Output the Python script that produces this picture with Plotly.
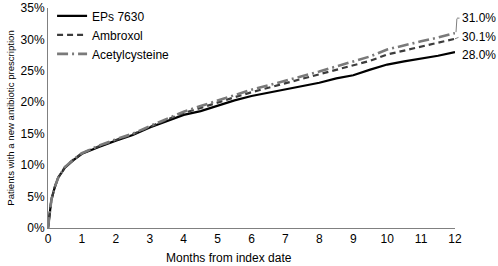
import plotly.graph_objects as go

months = [0, 0.05, 0.1, 0.2, 0.3, 0.5, 0.75, 1, 1.25, 1.5, 2, 2.5, 3, 3.5, 4, 4.5, 5,
          5.5, 6, 6.5, 7, 7.5, 8, 8.5, 9, 9.5, 10, 10.5, 11, 11.5, 12]

eps7630 = [0, 2.5, 4.5, 6.5, 8.0, 9.6, 10.8, 11.8, 12.4, 12.9, 13.9, 14.8, 16.0, 17.0,
           18.0, 18.6, 19.5, 20.3, 21.0, 21.5, 22.0, 22.6, 23.1, 23.8, 24.3, 25.2, 26.0,
           26.5, 26.9, 27.4, 28.0]
ambroxol = [0, 2.5, 4.5, 6.5, 8.0, 9.7, 10.9, 11.9, 12.5, 13.0, 14.0, 14.9, 16.1, 17.2,
            18.3, 19.1, 20.0, 20.8, 21.6, 22.3, 23.0, 23.7, 24.4, 25.1, 25.8, 26.6, 27.6,
            28.2, 28.8, 29.4, 30.1]
acetylcysteine = [0, 2.5, 4.5, 6.5, 8.0, 9.7, 10.9, 11.9, 12.5, 13.1, 14.1, 15.0, 16.2,
                  17.3, 18.5, 19.4, 20.3, 21.1, 22.0, 22.7, 23.4, 24.2, 24.9, 25.7, 26.5,
                  27.3, 28.4, 29.1, 29.7, 30.3, 31.0]

x_ticks = list(range(0, 13))
y_ticks = [0, 5, 10, 15, 20, 25, 30, 35]
y_tick_labels = [f"{v}%" for v in y_ticks]

FONT = "Arial, Liberation Sans, sans-serif"
LEADER = "#808080"

fig = go.Figure()
fig.add_trace(go.Scatter(x=months, y=eps7630, mode="lines", name="EPs 7630",
                         line=dict(color="#000000", width=2.2)))
fig.add_trace(go.Scatter(x=months, y=ambroxol, mode="lines", name="Ambroxol",
                         line=dict(color="#3c3c3c", width=2.2, dash="6px,4px")))
fig.add_trace(go.Scatter(x=months, y=acetylcysteine, mode="lines", name="Acetylcysteine",
                         line=dict(color="#7a7a7a", width=2.6, dash="11px,4px,2px,4px")))

x_end = months[-1]
# end-value labels
for val, ysh in [(acetylcysteine[-1], 15), (ambroxol[-1], 2), (eps7630[-1], -3)]:
    fig.add_annotation(x=x_end, y=val, text=f"{val:.1f}%", showarrow=False,
                       xanchor="left", yanchor="middle", xshift=5, yshift=ysh,
                       font=dict(family=FONT, size=12, color="#000000"))
# leader lines
fig.add_annotation(x=x_end, y=acetylcysteine[-1], text="", showarrow=True, arrowhead=0,
                   arrowwidth=1, arrowcolor=LEADER, ax=1, ay=-15, xshift=1, yshift=1)
fig.add_annotation(x=x_end, y=acetylcysteine[-1], text="", showarrow=True, arrowhead=0,
                   arrowwidth=1, arrowcolor=LEADER, ax=4, ay=0, xshift=2, yshift=15)
fig.add_annotation(x=x_end, y=ambroxol[-1], text="", showarrow=True, arrowhead=0,
                   arrowwidth=1, arrowcolor=LEADER, ax=5, ay=-2, xshift=0, yshift=0)

# x-axis title (placed slightly left of centre as in the reference)
fig.add_annotation(xref="paper", yref="paper", x=0.445, y=-0.136, text="Months from index date",
                   showarrow=False, xanchor="center", yanchor="middle",
                   font=dict(family=FONT, size=12, color="#000000"))

fig.update_layout(
    width=498, height=266,
    margin=dict(l=48, r=43, t=8, b=38, autoexpand=False),
    plot_bgcolor="white", paper_bgcolor="white",
    font=dict(family=FONT, size=12, color="#000000"),
    showlegend=True,
    legend=dict(x=0.01, y=1.03, xanchor="left", yanchor="top",
                bgcolor="rgba(0,0,0,0)", font=dict(size=12), tracegroupgap=0),
    xaxis=dict(range=[0, 12], tickvals=x_ticks, showgrid=False, zeroline=False,
               showline=True, linecolor="#808080", linewidth=1, ticks="",
               automargin=False),
    yaxis=dict(range=[0, 35], tickvals=y_ticks, ticktext=y_tick_labels, showgrid=False,
               zeroline=False, showline=True, linecolor="#808080", linewidth=1, ticks="",
               automargin=False,
               title=dict(text="Patients with a new antibiotic prescription",
                          font=dict(size=9.6), standoff=4)),
)

fig.write_html("out.html", config={"displayModeBar": False},
               post_script="document.body.style.margin='0';")
